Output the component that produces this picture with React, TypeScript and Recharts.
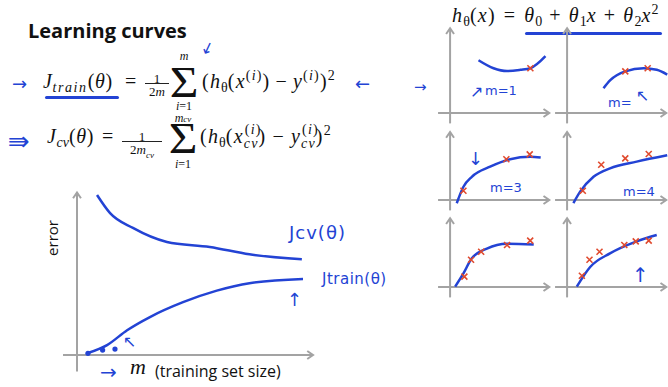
import React from 'react'
import { ComposedChart, Line, Scatter, XAxis, YAxis, ReferenceLine } from 'recharts'

const BLUE = '#2343d4'
const RED = '#e04a2e'
const GREY = '#a3a3a3'
const serif = '"Liberation Serif", "Times New Roman", serif'
const hand = '"DejaVu Sans", sans-serif'

// learning curves: training set size m against error
const cvM = [0.86, 1.42, 2.4, 3.86, 5.7, 7.4, 9.65]
const cvErr = [9.7, 8.6, 7.7, 6.85, 6.55, 6.1, 5.8]
const trainM = [0.47, 1.29, 2.15, 3.13, 4.55, 6.0, 7.4, 9.7]
const trainErr = [0.12, 0.6, 1.5, 2.3, 3.2, 3.9, 4.35, 4.6]
const smallM = [0.47, 1.1, 1.63]
const smallErr = [0.1, 0.3, 0.36]

// quadratic fits for m = 1 .. 6
const fit1X = [2.98, 4.56, 5.97, 7.37, 8.42, 10.0]
const fit1Y = [6.6, 5.6, 5.25, 5.4, 5.6, 7.1]
const pts1X = [8.42]
const pts1Y = [5.6]

const fit2X = [3.82, 4.53, 6.1, 8.03, 9.4, 10.5]
const fit2Y = [3.1, 4.1, 5.2, 5.6, 5.4, 4.8]
const pts2X = [6.1, 8.45]
const pts2Y = [5.2, 5.6]

const fit3X = [0.7, 1.4, 2.28, 4.2, 6.3, 8.4, 9.5]
const fit3Y = [-0.4, 1.66, 2.9, 4.16, 5.1, 5.4, 5.3]
const pts3X = [1.4, 5.9, 8.35]
const pts3Y = [1.16, 5.1, 5.7]

const fit4X = [0.66, 1.37, 2.77, 4.5, 7.3, 10.5]
const fit4Y = [-0.4, 1.04, 2.9, 3.96, 4.8, 5.6]
const pts4X = [1.65, 3.58, 6.1, 8.56]
const pts4Y = [1.16, 4.4, 5.2, 5.75]

const fit5X = [0.53, 1.4, 2.28, 3.86, 5.97, 8.77]
const fit5Y = [0.04, 1.7, 3.6, 4.8, 5.4, 5.3]
const pts5X = [1.5, 2.2, 3.26, 5.97, 8.4]
const pts5Y = [1.3, 3.4, 4.4, 5.25, 5.8]

const fit6X = [1.02, 2.42, 4.5, 7.3, 9.4]
const fit6Y = [0.04, 2.5, 4.2, 5.7, 6.5]
const pts6X = [1.55, 2.35, 3.4, 6.0, 7.2, 8.56]
const pts6Y = [1.4, 3.4, 4.4, 5.25, 5.7, 5.8]

const zip = (xs: number[], ys: number[]) => xs.map((x, i) => ({ x, y: ys[i] }))

// grey axis line with an open arrow head at its far end
function arrowAxis(p: any) {
  const { x1, y1, x2, y2 } = p
  const a = Math.atan2(y2 - y1, x2 - x1)
  const s = 7
  const l = `${x2 - s * Math.cos(a - 0.6)},${y2 - s * Math.sin(a - 0.6)}`
  const r = `${x2 - s * Math.cos(a + 0.6)},${y2 - s * Math.sin(a + 0.6)}`
  return (
    <g>
      <line x1={x1} y1={y1} x2={x2} y2={y2} stroke={GREY} strokeWidth={2} />
      <polyline points={`${l} ${x2},${y2} ${r}`} fill="none" stroke={GREY} strokeWidth={2} />
    </g>
  )
}

function cross(p: any) {
  const { cx, cy } = p
  const d = 3
  return (
    <path
      d={`M${cx - d},${cy - d}L${cx + d},${cy + d}M${cx + d},${cy - d}L${cx - d},${cy + d}`}
      stroke={RED}
      strokeWidth={1.6}
    />
  )
}

function blob(p: any) {
  return <circle cx={p.cx} cy={p.cy} r={2.6} fill={BLUE} />
}

function SmallFit({ ox, oy, top, fx, fy, px, py }: any) {
  return (
    <div style={{ position: 'absolute', left: ox - 20, top: oy - 90 }}>
      <ComposedChart width={127} height={108} margin={{ top: 10, right: 2, bottom: 2, left: 1 }}>
        <XAxis type="number" dataKey="x" domain={[-2, 11]} hide />
        <YAxis type="number" domain={[-2, 10]} hide />
        <ReferenceLine segment={[{ x: -1.26, y: 0 }, { x: 10.4, y: 0 }]} shape={arrowAxis} ifOverflow="visible" />
        <ReferenceLine segment={[{ x: 0, y: -1.3 }, { x: 0, y: top }]} shape={arrowAxis} ifOverflow="visible" />
        <Line data={zip(fx, fy)} dataKey="y" type="monotone" stroke={BLUE} strokeWidth={2.5} dot={false} isAnimationActive={false} />
        <Scatter data={zip(px, py)} dataKey="y" shape={cross} isAnimationActive={false} />
      </ComposedChart>
    </div>
  )
}

const Sub = ({ children, ls = 0 }: any) => (
  <span style={{ fontSize: '0.7em', position: 'relative', top: 4, letterSpacing: ls }}>{children}</span>
)
const Sup = ({ children }: any) => (
  <span style={{ fontSize: '0.7em', position: 'relative', top: -8 }}>{children}</span>
)
const SupSub = ({ sup, sub }: any) => (
  <span style={{ position: 'relative', fontSize: '0.7em', display: 'inline-block' }}>
    <span style={{ position: 'relative', top: 5 }}>{sub}</span>
    <span style={{ position: 'absolute', left: 1, top: -9 }}>{sup}</span>
  </span>
)
const Op = ({ children, w = 5 }: any) => <span style={{ padding: `0 ${w}px` }}>{children}</span>

function T({ x, y, size = 20, ls = 0.6, children }: any) {
  return (
    <div
      style={{
        position: 'absolute',
        left: x,
        top: y,
        fontSize: size,
        lineHeight: 1,
        whiteSpace: 'nowrap',
        fontFamily: serif,
        letterSpacing: ls,
      }}
    >
      {children}
    </div>
  )
}

function Frac({ x, y, num, den, w }: any) {
  return (
    <div style={{ position: 'absolute', left: x, top: y, width: w, fontFamily: serif, fontSize: 13, lineHeight: 1, textAlign: 'center' }}>
      <div>{num}</div>
      <div style={{ borderTop: '1px solid #222', marginTop: -2, paddingTop: 1 }}>{den}</div>
    </div>
  )
}

// summation sign with its limits; the sign's box is trimmed to the glyph
function Sigma({ x, top, overTop, underTop, over }: any) {
  const base: React.CSSProperties = { position: 'absolute', left: x, width: 30, fontFamily: serif, lineHeight: 1, textAlign: 'center' }
  return (
    <>
      <div style={{ ...base, top: overTop, fontSize: 12, fontStyle: 'italic' }}>{over}</div>
      <div style={{ ...base, top, height: 30, fontSize: 44, lineHeight: '30px', transform: 'scaleX(1.12)' }}>Σ</div>
      <div style={{ ...base, top: underTop, fontSize: 12 }}>
        <i>i</i>=1
      </div>
    </>
  )
}

function Pen({ x, y, size = 16, children, rot = 0, ls = 0 }: any) {
  return (
    <div
      style={{
        position: 'absolute',
        left: x,
        top: y,
        fontSize: size,
        lineHeight: 1,
        color: BLUE,
        fontFamily: hand,
        whiteSpace: 'nowrap',
        letterSpacing: ls,
        transform: `rotate(${rot}deg)`,
      }}
    >
      {children}
    </div>
  )
}

const Stroke = ({ x, y, w, rot = 0 }: any) => (
  <div style={{ position: 'absolute', left: x, top: y, width: w, height: 2.5, borderRadius: 2, background: BLUE, transform: `rotate(${rot}deg)` }} />
)

export default function App() {
  return (
    <div style={{ position: 'absolute', left: 0, top: 0, width: 668, height: 387, background: '#fff', overflow: 'hidden', color: '#111' }}>
      <div style={{ position: 'absolute', left: 28, top: 21, lineHeight: 1, fontFamily: '"Open Sans", sans-serif', fontWeight: 700, fontSize: 20 }}>
        Learning curves
      </div>

      {/* training error */}
      <Pen x={12} y={75} size={18}>→</Pen>
      <T x={43} y={71}>
        <i>J</i>
        <Sub ls={1.6}>
          <i>train</i>
        </Sub>
        (<i>θ</i>)
      </T>
      <Stroke x={45} y={96} w={74} />
      <T x={125} y={71}>=</T>
      <Frac x={145} y={72} w={24} num="1" den={<span>2<i>m</i></span>} />
      <Sigma x={169} top={68} overTop={50} underTop={100} over="m" />
      <T x={202} y={71} ls={1.2}>
        (<i>h</i>
        <Sub>θ</Sub>(<i>x</i>
        <Sup>
          (<i>i</i>)
        </Sup>
        )<Op>−</Op>
        <i>y</i>
        <Sup>
          (<i>i</i>)
        </Sup>
        )<Sup>2</Sup>
      </T>
      <Pen x={201} y={40} size={16} rot={-20}>↙</Pen>
      <Pen x={355} y={75} size={18}>←</Pen>

      {/* cross validation error */}
      <Pen x={8} y={128} size={26}>⇛</Pen>
      <T x={47} y={126}>
        <i>J</i>
        <Sub>
          <i>cv</i>
        </Sub>
        (<i>θ</i>)
      </T>
      <T x={102} y={126}>=</T>
      <Frac x={122} y={130} w={40} num="1" den={<span>2<i>m</i><Sub><i>cv</i></Sub></span>} />
      <Sigma x={168} top={124} overTop={112} underTop={158} over={<span>m<span style={{ fontSize: 9 }}>cv</span></span>} />
      <T x={200} y={126} ls={1.2}>
        (<i>h</i>
        <Sub>θ</Sub>(<i>x</i>
        <SupSub sup={<span>(<i>i</i>)</span>} sub={<i>cv</i>} />)<Op w={6}>−</Op>
        <i>y</i>
        <SupSub sup={<span>(<i>i</i>)</span>} sub={<i>cv</i>} />)<Sup>2</Sup>
      </T>

      {/* hypothesis */}
      <T x={452} y={5} ls={1.2}>
        <i>h</i>
        <Sub>θ</Sub>(<i>x</i>)<Op w={8}>=</Op>
        <i>θ</i>
        <Sub>0</Sub>
        <Op w={7}>+</Op>
        <i>θ</i>
        <Sub>1</Sub>
        <i>x</i>
        <Op w={7}>+</Op>
        <i>θ</i>
        <Sub>2</Sub>
        <i>x</i>
        <Sup>2</Sup>
      </T>
      <Stroke x={525} y={32} w={137} />

      {/* learning curve plot */}
      <div style={{ position: 'absolute', left: 0, top: 180 }}>
        <ComposedChart width={340} height={207} margin={{ top: 10, right: 30, bottom: 32, left: 77 }}>
          <XAxis type="number" dataKey="x" domain={[0, 10]} hide />
          <YAxis type="number" domain={[0, 10]} hide />
          <ReferenceLine segment={[{ x: -0.6, y: 0 }, { x: 10.13, y: 0 }]} shape={arrowAxis} ifOverflow="visible" />
          <ReferenceLine segment={[{ x: 0, y: -1.0 }, { x: 0, y: 9.85 }]} shape={arrowAxis} ifOverflow="visible" />
          <Line data={zip(cvM, cvErr)} dataKey="y" type="monotone" stroke={BLUE} strokeWidth={2.5} dot={false} isAnimationActive={false} />
          <Line data={zip(trainM, trainErr)} dataKey="y" type="monotone" stroke={BLUE} strokeWidth={2.5} dot={false} isAnimationActive={false} />
          <Scatter data={zip(smallM, smallErr)} dataKey="y" shape={blob} isAnimationActive={false} />
        </ComposedChart>
      </div>
      <div
        style={{
          position: 'absolute',
          left: 52,
          top: 238,
          transform: 'translate(-50%, -50%) rotate(-90deg)',
          fontFamily: '"Open Sans", sans-serif',
          fontSize: 15,
          lineHeight: 1,
        }}
      >
        error
      </div>
      <T x={130} y={356} size={22}>
        <i>m</i>
      </T>
      <div style={{ position: 'absolute', left: 155, top: 363, fontFamily: '"Open Sans", sans-serif', fontSize: 16, lineHeight: 1 }}>
        (training set size)
      </div>
      <Pen x={100} y={362} size={20}>→</Pen>
      <Pen x={123} y={334} size={16}>↖</Pen>
      <Pen x={289} y={224} size={18} ls={1}>Jcv(θ)</Pen>
      <Pen x={322} y={272} size={15} ls={0.5}>Jtrain(θ)</Pen>
      <Pen x={287} y={291} size={18}>↑</Pen>

      {/* fits for growing training sets */}
      <SmallFit ox={450} oy={113} top={10.6} fx={fit1X} fy={fit1Y} px={pts1X} py={pts1Y} />
      <SmallFit ox={567} oy={113} top={10.6} fx={fit2X} fy={fit2Y} px={pts2X} py={pts2Y} />
      <SmallFit ox={450} oy={200} top={8.5} fx={fit3X} fy={fit3Y} px={pts3X} py={pts3Y} />
      <SmallFit ox={567} oy={200} top={8.5} fx={fit4X} fy={fit4Y} px={pts4X} py={pts4Y} />
      <SmallFit ox={450} oy={287} top={8.6} fx={fit5X} fy={fit5Y} px={pts5X} py={pts5Y} />
      <SmallFit ox={567} oy={287} top={8.6} fx={fit6X} fy={fit6Y} px={pts6X} py={pts6Y} />

      <Pen x={414} y={80} size={15}>→</Pen>
      <Pen x={470} y={84} size={16}>↗</Pen>
      <Pen x={485} y={84} size={13}>m=1</Pen>
      <Pen x={608} y={96} size={13}>m=</Pen>
      <Pen x={636} y={88} size={16}>↖</Pen>
      <Pen x={468} y={150} size={18}>↓</Pen>
      <Pen x={490} y={181} size={13}>m=3</Pen>
      <Pen x={623} y={185} size={13}>m=4</Pen>
      <Pen x={632} y={265} size={20}>↑</Pen>
    </div>
  )
}
